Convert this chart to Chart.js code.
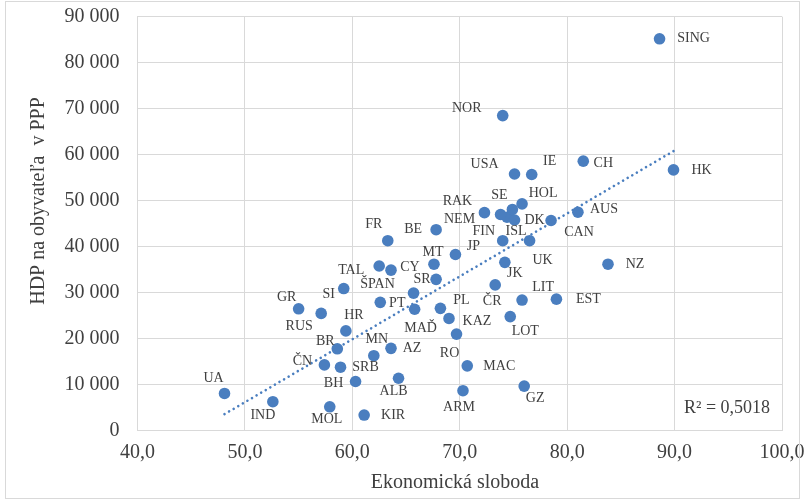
<!DOCTYPE html>
<html>
<head>
<meta charset="utf-8">
<script src="https://cdn.jsdelivr.net/npm/chart.js@4.4.0/dist/chart.umd.min.js"></script>
<style>
html, body { margin: 0; padding: 0; background: #fff; }
#wrap { width: 804px; height: 502px; }
</style>
</head>
<body>
<div id="wrap"><canvas id="myChart" width="804" height="502"></canvas></div>
<script>
// data
var countries = ['SING','HK','CH','AUS','CAN','NZ','EST','LIT','ČR','JK','UK','FIN','ISL','DK','SE','NEM','HOL','RAK','USA','IE','NOR','BE','FR','JP','MT','CY','SR','ŠPAN','TAL','SI','GR','RUS','PT','MAĎ','PL','KAZ','LOT','RO','MAC','GZ','ARM','HR','BR','ČN','SRB','MN','AZ','BH','ALB','IND','MOL','KIR','UA']
var freedom = [88.6,89.9,81.5,81.0,78.5,83.8,79.0,75.8,73.3,74.2,76.5,74.0,74.4,75.1,74.9,73.8,75.8,72.3,75.1,76.7,74.0,67.8,63.3,69.6,67.6,63.6,67.8,65.7,62.5,59.2,55.0,57.1,62.6,65.8,68.2,69.0,74.7,69.7,70.7,76.0,70.3,59.4,58.6,57.4,58.9,62.0,63.6,60.3,64.3,52.6,57.9,61.1,48.1]
var gdp = [85200,56700,58600,47500,45700,36200,28600,28400,31700,36600,41300,41300,46400,45800,48100,47000,49300,47400,55800,55700,68500,43700,41300,38300,36200,34900,32900,29900,35800,30900,26500,25500,27900,26400,26600,24400,24800,21000,14100,9700,8700,21700,17800,14300,13800,16300,17900,10700,11400,6300,5200,3400,8100]
var xTicks = [40, 50, 60, 70, 80, 90, 100]
var yTicks = [0, 10000, 20000, 30000, 40000, 50000, 60000, 70000, 80000, 90000]
var r2Text = 'R² = 0,5018'

// where each data label sits relative to its point (px)
var labelOffsets = {
  SING:[34,0], HK:[28,0], CH:[20,2], AUS:[26,-3], CAN:[28,12], NZ:[27,0], EST:[32,0],
  LIT:[21,-13], 'ČR':[-3,16], JK:[10,11], UK:[13,20], FIN:[-19,-9], ISL:[9,14], DK:[20,0],
  SE:[-13,-14], NEM:[-41,5], HOL:[21,-11], RAK:[-27,-11], USA:[-30,-10], IE:[18,-13],
  NOR:[-36,-7], BE:[-23,0], FR:[-14,-16], JP:[18,-8], MT:[-1,-12], CY:[19,-3], SR:[-14,0],
  'ŠPAN':[-36,-9], TAL:[-28,4], SI:[-15,6], GR:[-12,-11], RUS:[-22,13], PT:[17,1],
  'MAĎ':[6,19], PL:[21,-8], KAZ:[28,3], LOT:[15,15], RO:[-7,19], MAC:[32,0], GZ:[11,12],
  ARM:[-4,17], HR:[8,-16], BR:[-12,-7], 'ČN':[-22,-4], SRB:[25,0], MN:[3,-16], AZ:[21,0],
  BH:[-22,2], ALB:[-5,13], IND:[-10,14], MOL:[-3,13], KIR:[29,0], UA:[-11,-15]
}

var blue = '#4a7ebf'
var grid = '#d9d9d9'
var textCol = '#404040'
var serif = '"Liberation Serif", "Times New Roman", serif'

var points = freedom.map(function (x, i) { return { x: x, y: gdp[i] } })

// linear trend (least squares) over the points
var n = freedom.length, sx = 0, sy = 0, sxy = 0, sxx = 0
for (var i = 0; i < n; i++) {
  sx += freedom[i]; sy += gdp[i]; sxy += freedom[i] * gdp[i]; sxx += freedom[i] * freedom[i]
}
var slope = (n * sxy - sx * sy) / (n * sxx - sx * sx)
var icpt = (sy - slope * sx) / n
var xmin = Math.min.apply(null, freedom), xmax = Math.max.apply(null, freedom)
var trend = [{ x: xmin, y: icpt + slope * xmin }, { x: xmax, y: icpt + slope * xmax }]

var extras = {
  id: 'extras',
  afterDatasetsDraw: function (chart) {
    var ctx = chart.ctx
    var meta = chart.getDatasetMeta(1)
    ctx.save()
    ctx.fillStyle = textCol
    ctx.textAlign = 'center'
    ctx.textBaseline = 'middle'
    ctx.font = '14px ' + serif
    meta.data.forEach(function (p, i) {
      var off = labelOffsets[countries[i]] || [0, -14]
      ctx.fillText(countries[i], p.x + off[0], p.y + off[1])
    })
    ctx.font = '18px ' + serif
    ctx.fillText(r2Text, 727, 408)
    ctx.font = '20px ' + serif
    ctx.fillText('Ekonomická sloboda', 455, 483)
    ctx.translate(39, 201)
    ctx.rotate(-Math.PI / 2)
    ctx.fillText('HDP na obyvateľa  v PPP', 0, 0)
    ctx.restore()
  },
  afterDraw: function (chart) {
    var ctx = chart.ctx
    ctx.save()
    ctx.strokeStyle = grid
    ctx.lineWidth = 1
    ctx.strokeRect(5.5, 1.5, 794, 497)
    ctx.restore()
  }
}

const ctx = document.getElementById('myChart')

new Chart(ctx, {
  type: 'scatter',
  data: {
    datasets: [{
      label: 'trend',
      data: trend,
      showLine: true,
      pointRadius: 0,
      borderColor: blue,
      borderWidth: 2.6,
      borderDash: [0.01, 5.3],
      borderCapStyle: 'round'
    }, {
      label: 'krajiny',
      data: points,
      pointRadius: 5.8,
      pointHoverRadius: 5.8,
      backgroundColor: blue,
      borderColor: blue,
      borderWidth: 0
    }]
  },
  options: {
    responsive: false,
    animation: false,
    devicePixelRatio: 1,
    layout: { padding: { top: 16.7, right: 22, left: 0, bottom: 0 } },
    plugins: { legend: { display: false }, tooltip: { enabled: false } },
    scales: {
      x: {
        min: 40, max: 100,
        afterBuildTicks: function (s) { s.ticks = xTicks.map(function (v) { return { value: v } }) },
        afterFit: function (s) { s.height = 71.3; s.paddingLeft = 0; s.paddingRight = 0 },
        grid: { color: grid, drawTicks: false },
        border: { color: grid },
        ticks: {
          padding: 10,
          color: textCol,
          font: { family: serif, size: 20 },
          callback: function (v) { return v.toFixed(1).replace('.', ',') }
        }
      },
      y: {
        min: 0, max: 90000,
        afterBuildTicks: function (s) { s.ticks = yTicks.map(function (v) { return { value: v } }) },
        afterFit: function (s) { s.width = 137.5; s.paddingTop = 0; s.paddingBottom = 0 },
        grid: { color: grid, drawTicks: false },
        border: { color: grid },
        ticks: {
          padding: 18,
          color: textCol,
          font: { family: serif, size: 20 },
          callback: function (v) { return String(v).replace(/\B(?=(\d{3})+(?!\d))/g, ' ') }
        }
      }
    }
  },
  plugins: [extras]
})
</script>
</body>
</html>
